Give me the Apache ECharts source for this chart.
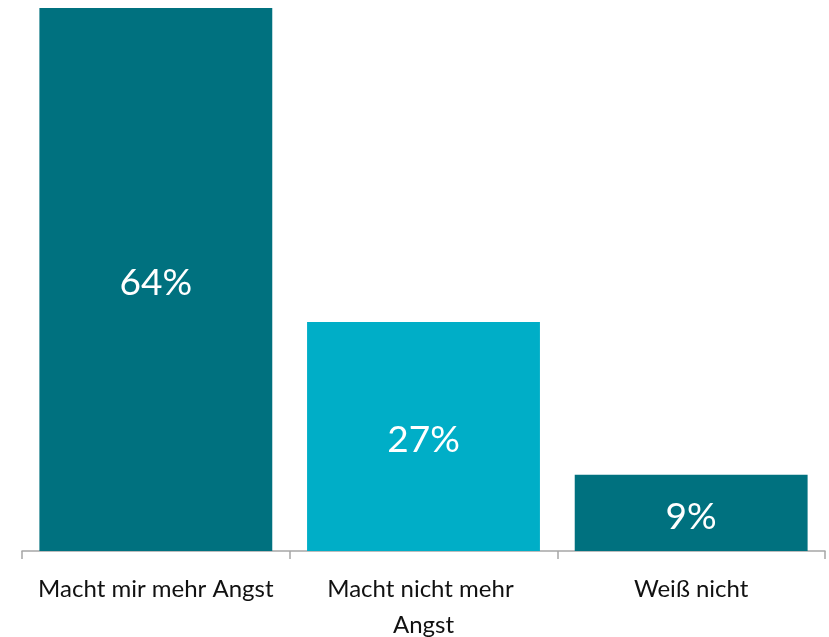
<!DOCTYPE html>
<html>
<head>
<meta charset="utf-8">
<script src="https://cdn.jsdelivr.net/npm/echarts@6/dist/echarts.min.js"></script>
<style>
  html, body { margin: 0; padding: 0; background: #fff; }
  #chart { width: 829px; height: 637px; }
</style>
</head>
<body>
<div id="chart"></div>
<script>
const categories = ['Macht mir mehr Angst', 'Macht nicht mehr Angst', 'Weiß nicht']
const values = [64, 27, 9]
const barColors = ['#00717F', '#00AEC7', '#00717F']

const chart = echarts.init(document.getElementById('chart'))
chart.setOption({
  animation: false,
  textStyle: { fontFamily: 'Lato' },
  grid: { left: 22, right: 4, top: 8, bottom: 86, containLabel: false, outerBoundsMode: 'none' },
  xAxis: {
    type: 'category',
    data: categories,
    axisLine: { lineStyle: { color: '#a6a6a6', width: 1.5 } },
    axisTick: { show: true, length: 8, lineStyle: { color: '#a6a6a6', width: 1.5 } },
    axisLabel: {
      color: '#111',
      fontSize: 24,
      margin: 20,
      lineHeight: 36,
      width: 245,
      overflow: 'break',
      interval: 0
    }
  },
  yAxis: {
    type: 'value',
    min: 0,
    max: 64,
    show: false,
    splitLine: { show: false }
  },
  series: [{
    type: 'bar',
    barCategoryGap: '13%',
    data: values.map((v, i) => ({ value: v, itemStyle: { color: barColors[i] } })),
    label: {
      show: true,
      position: 'inside',
      offset: [0, 4],
      color: '#fff',
      fontSize: 37,
      formatter: '{c}%'
    }
  }]
})
</script>
</body>
</html>
